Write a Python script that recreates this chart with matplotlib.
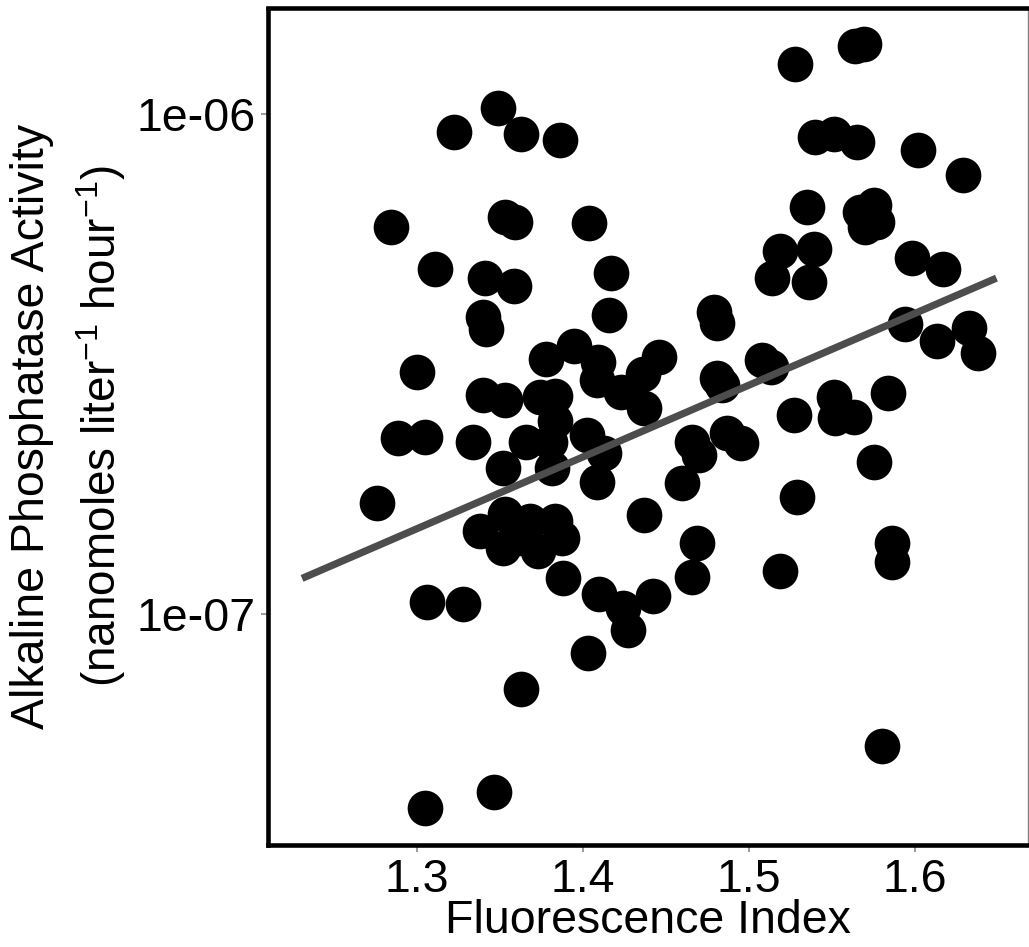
import matplotlib
matplotlib.use("Agg")
import matplotlib.pyplot as plt
import numpy as np

plt.rcParams['font.family'] = ['Liberation Sans', 'DejaVu Sans']
plt.rcParams['mathtext.default'] = 'regular'

# Fluorescence index (x) and alkaline phosphatase activity (y)
fi = [1.276, 1.289, 1.305, 1.2845, 1.300, 1.311, 1.3225, 1.306, 1.328, 1.305,
      1.3465, 1.341, 1.3586, 1.340, 1.342, 1.340, 1.353, 1.334, 1.349, 1.363,
      1.386, 1.353, 1.359, 1.366, 1.380, 1.352, 1.3815, 1.338, 1.353, 1.352,
      1.368, 1.373, 1.383, 1.3875, 1.361, 1.363, 1.378, 1.395, 1.404, 1.417,
      1.416, 1.409, 1.4085, 1.423, 1.436, 1.437, 1.374, 1.383, 1.383, 1.4025,
      1.413, 1.4085, 1.437, 1.388, 1.410, 1.424, 1.427, 1.442, 1.403, 1.446,
      1.466, 1.469, 1.460, 1.466, 1.470, 1.487, 1.495, 1.479, 1.481, 1.481,
      1.484, 1.508, 1.513, 1.527, 1.529, 1.519, 1.519, 1.539, 1.514, 1.536,
      1.535, 1.528, 1.540, 1.551, 1.565, 1.551, 1.552, 1.563, 1.584, 1.575,
      1.586, 1.586, 1.580, 1.594, 1.598, 1.617, 1.602, 1.629, 1.613, 1.6325,
      1.638, 1.564, 1.569, 1.567, 1.575, 1.570, 1.577]

apa = [1.67e-7, 2.25e-7, 2.26e-7, 5.94e-7, 3.05e-7, 4.90e-7, 9.20e-7, 1.06e-7, 1.05e-7, 4.10e-8,
       4.41e-8, 4.70e-7, 4.53e-7, 3.93e-7, 3.72e-7, 2.74e-7, 2.68e-7, 2.21e-7, 1.028e-6, 9.12e-7,
       8.87e-7, 6.22e-7, 6.08e-7, 2.21e-7, 2.21e-7, 1.96e-7, 1.96e-7, 1.47e-7, 1.59e-7, 1.36e-7,
       1.54e-7, 1.34e-7, 1.54e-7, 1.42e-7, 1.42e-7, 7.09e-8, 3.24e-7, 3.44e-7, 6.06e-7, 4.81e-7,
       3.97e-7, 3.19e-7, 2.94e-7, 2.78e-7, 3.02e-7, 2.59e-7, 2.72e-7, 2.73e-7, 2.44e-7, 2.28e-7,
       2.10e-7, 1.84e-7, 1.58e-7, 1.18e-7, 1.10e-7, 1.03e-7, 9.30e-8, 1.09e-7, 8.37e-8, 3.27e-7,
       1.19e-7, 1.39e-7, 1.83e-7, 2.21e-7, 2.08e-7, 2.30e-7, 2.20e-7, 4.02e-7, 3.82e-7, 2.97e-7,
       2.87e-7, 3.22e-7, 3.12e-7, 2.50e-7, 1.72e-7, 1.22e-7, 5.32e-7, 5.37e-7, 4.70e-7, 4.62e-7,
       6.52e-7, 1.259e-6, 9.00e-7, 9.12e-7, 8.79e-7, 2.72e-7, 2.47e-7, 2.48e-7, 2.77e-7, 2.02e-7,
       1.39e-7, 1.27e-7, 5.46e-8, 3.80e-7, 5.15e-7, 4.90e-7, 8.47e-7, 7.55e-7, 3.52e-7, 3.74e-7,
       3.33e-7, 1.367e-6, 1.380e-6, 6.37e-7, 6.58e-7, 5.94e-7, 6.08e-7]

# fitted trend line end points
fit_x = [1.231, 1.649]
fit_y = [1.18e-7, 4.70e-7]

x_ticks = [1.3, 1.4, 1.5, 1.6]
x_tick_labels = ['1.3', '1.4', '1.5', '1.6']
y_ticks = [1e-7, 1e-6]
y_tick_labels = ['1e-07', '1e-06']

W, H = 1029, 947
fig = plt.figure(figsize=(W / 100, H / 100), dpi=100)
ax = fig.add_axes([268 / W, (H - 845) / H, (1028 - 268) / W, (845 - 8.5) / H])

ax.scatter(fi, apa, s=660, c='black', linewidths=0, zorder=2)
ax.plot(fit_x, fit_y, color='#4d4d4d', lw=5.2, solid_capstyle='butt', zorder=3)

ax.set_yscale('log')
ax.set_xlim(1.2105, 1.668)
ax.set_ylim(3.459e-8, 1.626e-6)
ax.set_xticks(x_ticks)
ax.set_xticklabels(x_tick_labels)
ax.set_yticks(y_ticks)
ax.set_yticklabels(y_tick_labels)
ax.yaxis.set_minor_locator(matplotlib.ticker.NullLocator())
ax.tick_params(axis='both', which='major', length=5, width=1.1, color='#808080',
               labelsize=33.5, labelcolor='black', pad=4)

for side in ['left', 'bottom', 'top']:
    ax.spines[side].set_color('black')
    ax.spines[side].set_linewidth(3.3)
ax.spines['right'].set_color('#808080')
ax.spines['right'].set_linewidth(1.0)

ax.set_xlabel('Fluorescence Index', fontsize=33.5, labelpad=-2)

fig.text(32 / W, (H - 426) / H, 'Alkaline Phosphatase Activity', rotation=90,
         ha='center', va='center', fontsize=33.5)
fig.text(101 / W, (H - 426) / H, '(nanomoles liter$^{-1}$ hour$^{-1}$)', rotation=90,
         ha='center', va='center', fontsize=33)

fig.savefig('out.png', dpi=100)
